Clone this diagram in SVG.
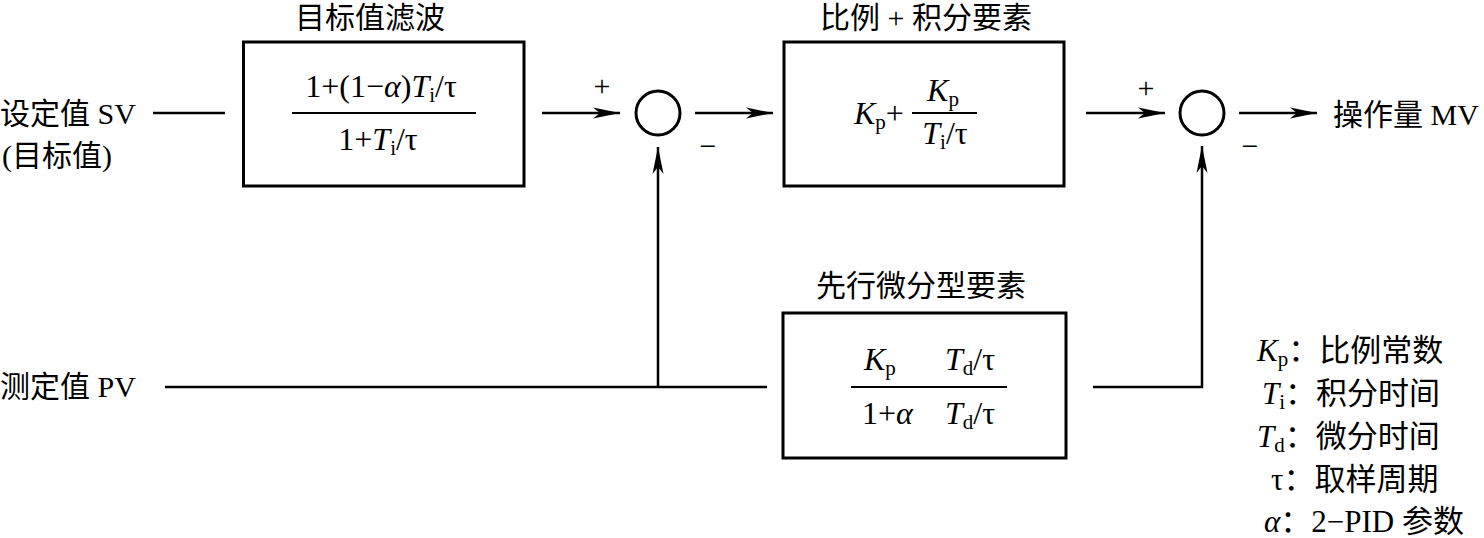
<svg xmlns="http://www.w3.org/2000/svg" width="1484" height="538" viewBox="0 0 1484 538">
<style>
text{font-family:"Liberation Serif","Noto Sans CJK SC",serif;fill:#000}
.lbl{font-size:30px}
.ttl{font-size:30px;text-anchor:middle}
.m{font-size:32px}
.lg{font-size:31px}
.i{font-style:italic}
.sub{font-size:21px}
.sg{font-size:30px;text-anchor:middle}
.box{fill:none;stroke:#000;stroke-width:3}
.ln{fill:none;stroke:#000;stroke-width:2.5}
.fr{stroke:#000;stroke-width:2}
.sum{fill:none;stroke:#000;stroke-width:3}
</style>
<defs>
<marker id="ah" markerUnits="userSpaceOnUse" markerWidth="30" markerHeight="14" viewBox="-28 -7 30 14" refX="0" refY="0" orient="auto">
<path d="M0,0 L-27,-5.5 L-20,0 L-27,5.5 Z" fill="#000"/>
</marker>
</defs>

<g id="connectors">
<line class="ln" x1="153" y1="113" x2="225" y2="113"/>
<line class="ln" x1="542" y1="113" x2="620" y2="113" marker-end="url(#ah)"/>
<line class="ln" x1="695" y1="113" x2="773" y2="113" marker-end="url(#ah)"/>
<line class="ln" x1="1086" y1="113" x2="1165" y2="113" marker-end="url(#ah)"/>
<line class="ln" x1="1239" y1="113" x2="1317" y2="113" marker-end="url(#ah)"/>
<line class="ln" x1="165" y1="387" x2="767" y2="387"/>
<line class="ln" x1="658" y1="387" x2="658" y2="147" marker-end="url(#ah)"/>
<polyline class="ln" points="1093,387 1202,387 1202,146" marker-end="url(#ah)"/>
</g>

<g id="sv-input">
<text class="lbl" x="0" y="124">设定值 SV</text>
<text class="lbl" x="2" y="166">(目标值)</text>
</g>

<g id="pv-input">
<text class="lbl" x="0" y="397">测定值 PV</text>
</g>

<g id="mv-output">
<text class="lbl" x="1333" y="125">操作量 MV</text>
</g>

<g id="setpoint-filter">
<text class="ttl" x="370" y="28">目标值滤波</text>
<rect class="box" x="243.5" y="42" width="280.5" height="144"/>
<text class="m" x="381" y="97" text-anchor="middle">1+(1−<tspan class="i">α</tspan>)<tspan class="i">T</tspan><tspan class="sub" dy="5">i</tspan><tspan dy="-5">/τ</tspan></text>
<line class="fr" x1="292" y1="113" x2="476" y2="113"/>
<text class="m" x="378" y="150" text-anchor="middle">1+<tspan class="i">T</tspan><tspan class="sub" dy="5">i</tspan><tspan dy="-5">/τ</tspan></text>
</g>

<g id="sum1">
<circle class="sum" cx="658" cy="113" r="22"/>
<text class="sg" x="602" y="96">+</text>
<text class="sg" x="708" y="156">−</text>
</g>

<g id="pi-element">
<text class="ttl" x="926" y="28">比例 + 积分要素</text>
<rect class="box" x="784" y="42" width="280" height="144"/>
<text class="m" x="854" y="124"><tspan class="i">K</tspan><tspan class="sub" dy="5">p</tspan><tspan dy="-5">+</tspan></text>
<text class="m" x="943" y="101" text-anchor="middle"><tspan class="i">K</tspan><tspan class="sub" dy="5">p</tspan></text>
<line class="fr" x1="912" y1="113" x2="977" y2="113"/>
<text class="m" x="945" y="144" text-anchor="middle"><tspan class="i">T</tspan><tspan class="sub" dy="5">i</tspan><tspan dy="-5">/τ</tspan></text>
</g>

<g id="sum2">
<circle class="sum" cx="1202" cy="113" r="22"/>
<text class="sg" x="1146" y="98">+</text>
<text class="sg" x="1250" y="156">−</text>
</g>

<g id="derivative-element">
<text class="ttl" x="921" y="296">先行微分型要素</text>
<rect class="box" x="783" y="313" width="283" height="145"/>
<text class="m" x="864" y="370"><tspan class="i">K</tspan><tspan class="sub" dy="5">p</tspan></text>
<text class="m" x="945" y="370"><tspan class="i">T</tspan><tspan class="sub" dy="5">d</tspan><tspan dy="-5">/τ</tspan></text>
<line class="fr" x1="851" y1="387" x2="1007" y2="387"/>
<text class="m" x="862" y="424">1+<tspan class="i">α</tspan></text>
<text class="m" x="945" y="424"><tspan class="i">T</tspan><tspan class="sub" dy="5">d</tspan><tspan dy="-5">/τ</tspan></text>
</g>

<g id="legend">
<text class="lg" x="1257" y="361"><tspan class="i">K</tspan><tspan class="sub" dy="5">p</tspan><tspan dy="-5">：比例常数</tspan></text>
<text class="lg" x="1262" y="404"><tspan class="i">T</tspan><tspan class="sub" dy="5">i</tspan><tspan dy="-5">：积分时间</tspan></text>
<text class="lg" x="1257" y="447"><tspan class="i">T</tspan><tspan class="sub" dy="5">d</tspan><tspan dy="-5">：微分时间</tspan></text>
<text class="lg" x="1271" y="490">τ：取样周期</text>
<text class="lg" x="1264" y="532"><tspan class="i">α</tspan>：2−PID 参数</text>
</g>
</svg>
